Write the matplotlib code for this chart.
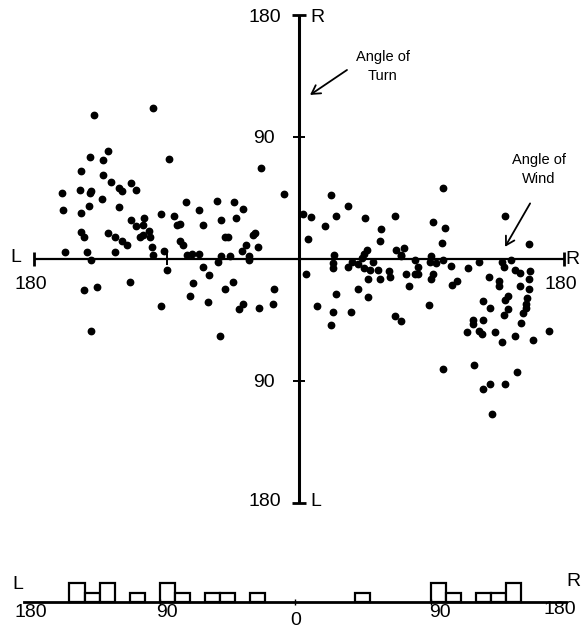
import matplotlib
matplotlib.use('Agg')
import matplotlib.pyplot as plt

plt.rcParams['font.family'] = ['Liberation Sans', 'DejaVu Sans']

# ---- data (degrees; negative = Left, positive = Right) ----
wind_deg = [-139, -99, -130, -142, -133, -88, -148, -133, -128, -114, -111, -161, -149, -142, -141,
            -122, -120, -134, -160, -148, -143, -122, -77, -68, -56, -94, -85, -83, -81, -65,
            -114, -111, -105, -106, -102, -101, -108, -106, -148, -146, -130, -125, -120, -117, -100,
            -92, -81, -79, -76, -73, -68, -159, -144, -125, -99, -44, -38, -53, -43, -50,
            -48, -31, -30, -28, -36, -39, -53, -47, -34, -26, -10, -141, -90, -55, -65,
            -61, -72, -45, -50, -115, -137, -146, -74, -62, -94, -41, -38, -27, -18, -17,
            -141, -54, -34,
            22, 33, 3, 8, 25, 18, 45, 65, 98, 91, 99, 97, 140, 156, 6,
            56, 55, 46, 44, 66, 71, 69, 24, 23, 23, 33, 36, 40, 43, 44,
            48, 50, 54, 55, 61, 62, 69, 79, 81, 89, 98, 103, 115, 122, 138,
            139, 144, 147, 150, 157, 156, 156, 150, 136, 136, 129, 73, 79, 81, 91,
            90, 107, 104, 75, 88, 65, 69, 125, 130, 142, 140, 142, 139, 155, 154,
            154, 152, 151, 118, 118, 125, 122, 124, 114, 133, 138, 147, 159, 170, 98,
            119, 148, 130, 125, 140, 131, 5, 12, 22, 23, 25, 35, 40, 47, 47,
            90, 93]
turn_deg = [106, 111, 80, 75, 73, 74, 65, 62, 57, 56, 51, 49, 51, 49, 50,
            52, 50, 44, 36, 34, 39, 38, 42, 36, 43, 33, 32, 25, 26, 25,
            29, 24, 30, 25, 21, 16, 16, 18, 20, 16, 19, 16, 13, 10, 9,
            6, 13, 10, 3, 4, 4, 5, 5, 5, 3, 42, 37, 29, 30, 16,
            16, 18, 19, 9, 10, 6, 2, 2, 2, 67, 48, -1, -8, -2, -6,
            -12, -18, -17, -22, -17, -21, -23, -27, -32, -35, -37, -33, -36, -33, -22,
            -53, -57, -1,
            47, 39, 33, 31, 32, 24, 30, 32, 52, 27, 23, 12, 32, 11, 15,
            22, 13, 7, 4, 7, 8, 3, 3, -3, -7, -6, -2, -4, 1, -7,
            -8, -2, -8, -15, -9, -13, 2, -1, -6, -2, -1, -5, -7, -2, -2,
            -6, -1, -8, -10, -9, -15, -22, -20, -16, -20, -13, -11, -11, -11, -11,
            -15, -16, -19, -20, -34, -42, -46, -31, -36, -27, -30, -37, -41, -29, -33,
            -36, -40, -47, -45, -48, -45, -53, -55, -54, -54, -61, -57, -60, -53, -81,
            -78, -83, -92, -96, -92, -114, -11, -35, -49, -39, -26, -39, -22, -28, -15,
            2, -3]

hist_bin_left = [-150, -140, -130, -110, -90, -80, -60, -50, -30, 40, 90, 100, 120, 130, 140]
hist_count = [2, 1, 2, 1, 2, 1, 1, 1, 1, 1, 2, 1, 1, 1, 2]
bin_width = 10
axis_ticks = [-90, 90]
hist_ticks = [-90, 0, 90]

W, H = 581, 628
fig = plt.figure(figsize=(W / 100, H / 100), dpi=100)

# ---- main scatter ----
ax = fig.add_axes([0, 0, 1, 1])
x0, sx = 299, 1.472
y0, sy = 259, 1.356
ax.set_xlim(-x0 / sx, (W - x0) / sx)
ax.set_ylim((y0 - H) / sy, y0 / sy)
ax.axis('off')

ax.plot([-180, 180], [0, 0], color='k', lw=1.6, solid_capstyle='butt', zorder=2)
ax.plot([0, 0], [-180, 180], color='k', lw=2.2, solid_capstyle='butt', zorder=2)
ax.plot([-180, 180], [0, 0], ls='none', marker='|', ms=10, mew=2, color='k')
ax.plot([0, 0], [-180, 180], ls='none', marker='_', ms=10, mew=2, color='k')
ax.plot(axis_ticks, [0, 0], ls='none', marker='|', ms=9, mew=1.4, color='k')
ax.plot([0, 0], axis_ticks, ls='none', marker='_', ms=9, mew=1.4, color='k')

ax.plot(wind_deg, turn_deg, ls='none', marker='o', ms=4.6, color='k', zorder=3)

fs = 14
ax.text(-23, 178, '180', ha='center', va='center', fontsize=fs)
ax.text(8, 178, 'R', ha='left', va='center', fontsize=fs)
ax.text(-24, 89, '90', ha='center', va='center', fontsize=fs)
ax.text(-24, -91, '90', ha='center', va='center', fontsize=fs)
ax.text(-23, -179, '180', ha='center', va='center', fontsize=fs)
ax.text(8, -179, 'L', ha='left', va='center', fontsize=fs)
ax.text(-189, 1, 'L', ha='right', va='center', fontsize=fs)
ax.text(-182, -19, '180', ha='center', va='center', fontsize=fs)
ax.text(190.5, 0, 'R', ha='right', va='center', fontsize=fs)
ax.text(178, -19, '180', ha='center', va='center', fontsize=fs)

afs = 10.5
ax.text(57, 142, 'Angle of\nTurn', ha='center', va='center', fontsize=afs, linespacing=1.45)
ax.annotate('', xy=(7.5, 121), xytext=(32.6, 139.4),
            arrowprops=dict(arrowstyle='->,head_length=0.6,head_width=0.35', lw=1.3,
                            color='k', shrinkA=0, shrinkB=0))
ax.text(163, 66, 'Angle of\nWind', ha='center', va='center', fontsize=afs, linespacing=1.45)
ax.annotate('', xy=(140, 9), xytext=(157, 41),
            arrowprops=dict(arrowstyle='->,head_length=0.6,head_width=0.35', lw=1.3,
                            color='k', shrinkA=0, shrinkB=0))

# ---- histogram of wind angles ----
ax2 = fig.add_axes([0, 0, 1, 1])
ax2.patch.set_alpha(0)
hx0, hsx = 295.2, 1.505
hy0, hsy = 602, 9.5
ax2.set_xlim(-hx0 / hsx, (W - hx0) / hsx)
ax2.set_ylim(-(H - hy0) / hsy, hy0 / hsy)
ax2.axis('off')
ax2.bar(hist_bin_left, hist_count, width=bin_width, align='edge',
        facecolor='white', edgecolor='k', lw=1.6, zorder=2)
ax2.plot([-180, 180], [0, 0], color='k', lw=2, zorder=3)
ax2.plot(hist_ticks, [0, 0, 0], ls='none', marker='|', ms=4, mew=1, color='k')

ax2.text(-176, -1.1, '180', ha='center', va='center', fontsize=fs)
ax2.text(-85, -1.1, '90', ha='center', va='center', fontsize=fs)
ax2.text(0, -1.9, '0', ha='center', va='center', fontsize=fs)
ax2.text(96, -1.1, '90', ha='center', va='center', fontsize=fs)
ax2.text(176, -0.8, '180', ha='center', va='center', fontsize=fs)
ax2.text(-184, 1.8, 'L', ha='center', va='center', fontsize=fs)
ax2.text(189.5, 2.2, 'R', ha='right', va='center', fontsize=fs)

fig.savefig('out.png', dpi=100)
